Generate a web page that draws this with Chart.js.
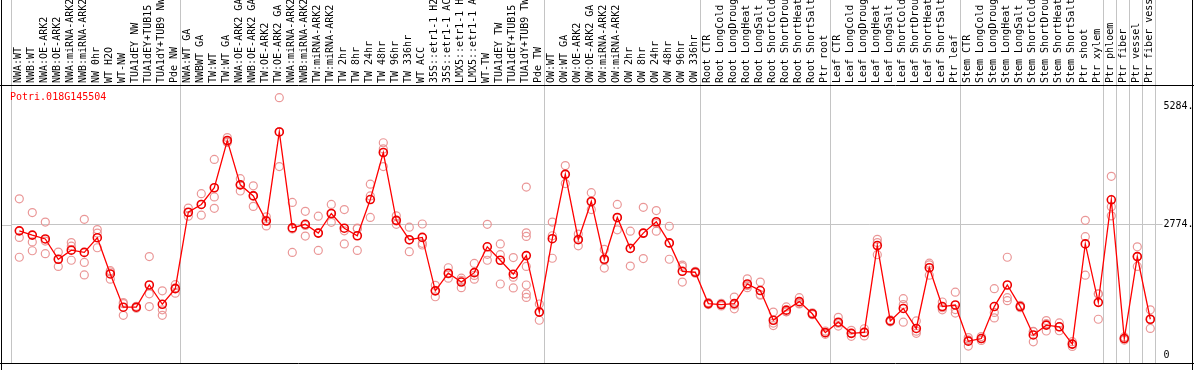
<!DOCTYPE html>
<html><head><meta charset="utf-8">
<script src="https://cdn.jsdelivr.net/npm/chart.js@4.4.1/dist/chart.umd.min.js"></script>
<style>html,body{margin:0;padding:0;background:#fff;}canvas{display:block;}</style>
</head><body>
<canvas id="c" width="1194" height="370"></canvas>
<script>
const geneName = 'Potri.018G145504';

const categories = [
  'NWA:WT','NWB:WT','NWA:OE-ARK2','NWB:OE-ARK2','NWA:miRNA-ARK2','NWB:miRNA-ARK2','NW 0hr','WT H2O','WT-NW','TUA1dEY NW','TUA1dEY+TUB15','TUA1dY+TUB9 NW','Pde NW',
  'NWA:WT GA','NWBWT GA','TW:WT','TW:WT GA','NWA:OE-ARK2 GA','NWB:OE-ARK2 GA','TW:OE-ARK2','TW:OE-ARK2 GA','NWA:miRNA-ARK2','NWB:miRNA-ARK2','TW:miRNA-ARK2','TW:miRNA-ARK2','TW 2hr','TW 8hr','TW 24hr','TW 48hr','TW 96hr','TW 336hr','WT ACC','35S::etr1-1 H2O','35S::etr1-1 ACC','LMX5::etr1-1 H2O','LMX5::etr1-1 ACC','WT-TW','TUA1dEY TW','TUA1dEY+TUB15','TUA1dY+TUB9 TW','Pde TW',
  'OW:WT','OW:WT GA','OW:OE-ARK2','OW:OE-ARK2 GA','OW:miRNA-ARK2','OW:miRNA-ARK2','OW 2hr','OW 8hr','OW 24hr','OW 48hr','OW 96hr','OW 336hr',
  'Root CTR','Root LongCold','Root LongDrought','Root LongHeat','Root LongSalt','Root ShortCold','Root ShortDrought','Root ShortHeat','Root ShortSalt','Ptr root',
  'Leaf CTR','Leaf LongCold','Leaf LongDrought','Leaf LongHeat','Leaf LongSalt','Leaf ShortCold','Leaf ShortDrought','Leaf ShortHeat','Leaf ShortSalt','Ptr leaf',
  'Stem CTR','Stem LongCold','Stem LongDrought','Stem LongHeat','Stem LongSalt','Stem ShortCold','Stem ShortDrought','Stem ShortHeat','Stem ShortSalt','Ptr shoot','Ptr xylem',
  'Ptr phloem','Ptr fiber','Ptr vessel','Ptr fiber vessel'
];

const means = [
  2646,2556,2475,2045,2238,2190,2501,1734,1030,1030,1500,1092,1423,
  3040,3205,3558,4558,3620,3386,2853,4739,2708,2785,2598,3013,2702,2542,3309,4304,2868,2459,2507,1376,1749,1562,1761,2308,2024,1728,2122,926,
  2480,3842,2459,3268,2045,2930,2273,2598,2839,2391,1790,1770,
  1106,1086,1106,1521,1382,754,968,1148,891,491,
  713,477,497,2335,740,1003,580,1865,1044,1077,
  311,367,1044,1500,1044,443,651,615,249,2370,1133,
  3303,367,2101,775
];

const replicates = [
  [3323,2507,2087],[3033,2412,2225],[2832,2430,2163],[2196,2045,1894],[2397,2321,2024],[2889,1977,1714],[2673,2598,2288],[1803,1775,1624],[1127,1105,858],[1050,1030,1010],[2101,1314,1044],[1376,974,858],[1506,1437,1326],
  [3129,3034,2957],[3433,3205,2977],[4158,3365,3122],[4621,4536,4517],[3750,3620,3489],[3599,3395,3164],[2942,2867,2750],[5464,4746,4007],[3247,2687,2190],[3060,2759,2536],
  [2957,2605,2232],[3205,3008,2826],[3096,2646,2370],[2702,2692,2232],[3634,3386,2930],[4511,4380,4007],[2963,2856,2785],[2723,2450,2205],[2791,2383,2347],[1492,1385,1251],
  [1865,1737,1645],[1645,1597,1444],[1956,1703,1624],[2785,2149,2024],[2370,2142,1521],[2080,1666,1438],[3572,2604,2528,1894,1500,1310,1237],[1098,926,754],
  [2832,2542,2066],[4028,3851,3647],[2578,2470,2329],[3454,3254,3096],[2252,2024,1859],[3205,2918,2667],[2640,2279,1900],[3143,2591,2060],[3075,2802,2640],[2743,2385,2045],[1921,1887,1562],[1790,1770,1750],
  [1127,1106,1085],[1113,1086,1058],[1244,1079,995],[1631,1488,1444],[1562,1299,1285],[926,694,642],[1036,936,932],[1231,1113,1100],[910,891,872],[526,491,456],
  [816,693,630],[540,477,414],[574,497,423],[2466,2397,2142],[760,740,720],[1210,1086,713],[740,523,477],[1962,1926,1707],[1140,1018,974],[1347,979,905],
  [387,339,207],[408,367,326],[1423,920,802],[2087,1231,1169],[1070,1044,1018],[518,513,298],[746,681,526],[698,615,532],[300,249,200],[2868,2522,1707],[1314,1310,775],
  [3800,3158,2963],[400,367,334],[2308,2101,1894],[974,771,580]
];

const yTickValues = [0, 2774, 5284];
const groupStarts = [0, 13, 41, 53, 63, 73, 84, 85, 86, 87];

const meanPoints = means.map((v, i) => ({x: i, y: v}));
const repPoints = [];
replicates.forEach((list, i) => list.forEach(v => repPoints.push({x: i, y: v})));

const FONT = {family: '"DejaVu Sans Mono", monospace', size: 10};
const GRID = '#c4c4c4';

const framePlugin = {
  id: 'frame',
  beforeDatasetsDraw(chart) {
    const ctx = chart.ctx, a = chart.chartArea;
    const y = Math.round(chart.scales.y.getPixelForValue(2774)) + 0.5;
    ctx.save();
    ctx.strokeStyle = GRID; ctx.lineWidth = 1;
    ctx.beginPath(); ctx.moveTo(2, y); ctx.lineTo(a.left, y); ctx.stroke();
    ctx.restore();
  },
  afterDraw(chart) {
    const ctx = chart.ctx, W = chart.width, a = chart.chartArea;
    ctx.save();
    ctx.strokeStyle = '#000'; ctx.lineWidth = 1;
    ctx.beginPath();
    ctx.moveTo(1.5, 0); ctx.lineTo(1.5, 370);
    ctx.moveTo(W - 1.5, 0); ctx.lineTo(W - 1.5, 370);
    ctx.moveTo(0, a.top + 0.5); ctx.lineTo(W, a.top + 0.5);
    ctx.moveTo(0, a.bottom + 0.5); ctx.lineTo(W, a.bottom + 0.5);
    ctx.stroke();
    ctx.fillStyle = '#ff0000';
    ctx.font = '10px "DejaVu Sans Mono", monospace';
    ctx.textBaseline = 'middle';
    ctx.textAlign = 'left';
    ctx.fillText(geneName, 10, 97);
    ctx.restore();
  }
};

new Chart(document.getElementById('c'), {
  type: 'line',
  data: {
    labels: categories,
    datasets: [
      {
        label: 'mean',
        data: meanPoints,
        xAxisID: 'xd',
        borderColor: '#ff0000',
        borderWidth: 1.3,
        pointRadius: 4,
        pointBorderWidth: 1.6,
        pointBorderColor: '#ee0000',
        pointBackgroundColor: 'rgba(0,0,0,0)',
        tension: 0
      },
      {
        label: 'replicates',
        data: repPoints,
        xAxisID: 'xd',
        showLine: false,
        pointRadius: 4,
        pointBorderWidth: 1.2,
        pointBorderColor: 'rgba(232,140,140,0.9)',
        pointBackgroundColor: 'rgba(0,0,0,0)'
      }
    ]
  },
  options: {
    responsive: false,
    animation: false,
    devicePixelRatio: 1,
    layout: {padding: {left: 11.5, right: 0, top: 0, bottom: 1}},
    plugins: {legend: {display: false}, tooltip: {enabled: false}, title: {display: false}},
    scales: {
      x: {
        type: 'category',
        position: 'top',
        offset: true,
        afterFit: s => { s.height = 85; },
        grid: {
          offset: true,
          drawTicks: true,
          tickLength: 85,
          lineWidth: 1,
          color: c => (c.index === undefined || groupStarts.includes(c.index)) ? GRID : 'rgba(0,0,0,0)'
        },
        border: {display: false},
        ticks: {autoSkip: false, minRotation: 90, maxRotation: 90, padding: -83, labelOffset: 12, color: '#000', font: FONT}
      },
      xd: {
        type: 'linear',
        display: false,
        min: -0.6,
        max: 87.4
      },
      y: {
        position: 'right',
        min: -151,
        max: 5733,
        afterFit: s => { s.width = 38.5; },
        afterBuildTicks: s => { s.ticks = yTickValues.map(v => ({value: v})); },
        grid: {
          drawTicks: true,
          tickLength: 7,
          color: c => (c.tick && c.tick.value === 2774) ? GRID : 'rgba(0,0,0,0)'
        },
        border: {display: false},
        ticks: {padding: 1, color: '#000', font: FONT, callback: v => v === 0 ? '0' : v + '.'}
      }
    }
  },
  plugins: [framePlugin]
});
</script>
</body></html>
